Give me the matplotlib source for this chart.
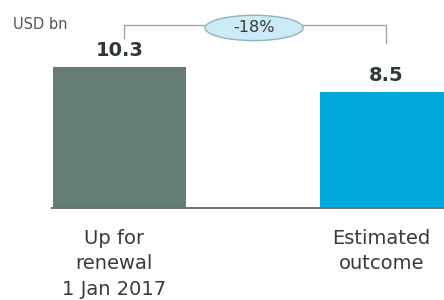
import matplotlib.pyplot as plt
from matplotlib.patches import Ellipse

# data
categories = ["Up for\nrenewal\n1 Jan 2017", "Estimated\noutcome"]
values = [10.3, 8.5]
value_labels = ["10.3", "8.5"]
change_label = "-18%"
unit_label = "USD bn"
bar_colors = ["#647d75", "#00a8de"]

plt.rcParams['font.family'] = ['DejaVu Sans']
text_color = "#3a3a3a"

fig = plt.figure(figsize=(4.44, 3.0), dpi=100)
ax = fig.add_axes([0, 0, 1, 1])

x = list(range(len(categories)))
ax.bar(x, values, width=0.498, color=bar_colors, zorder=2)

# baseline
ax.hlines(0, -0.255, 1.3, color="#6f6f6f", linewidth=1.4, zorder=3)

# value labels above bars
for xi, v, lab in zip(x, values, value_labels):
    ax.annotate(lab, (xi, v), xytext=(0, 5), textcoords="offset points",
                ha="center", va="bottom", fontsize=14, fontweight="bold",
                color="#2e3a37")

# category labels
for xi, cat in zip(x, categories):
    ax.text(xi - 0.02, -1.5, cat, ha="center", va="top", fontsize=14,
            color=text_color, linespacing=1.45)

# bracket showing the change
top = 13.37
ax.plot([x[0] + 0.017, x[0] + 0.017, x[1], x[1]],
        [12.42, top, top, 12.05], color="#a0a8a6", linewidth=1.0, zorder=1)
ell = Ellipse((0.504, 13.15), 0.367, 1.85, facecolor="#cdebf6",
              edgecolor="#8fb3bf", linewidth=1.0, zorder=4)
ax.add_patch(ell)
ax.text(0.504, 13.15, change_label, ha="center", va="center", fontsize=11.5,
        color=text_color, zorder=5)

ax.text(-0.4, 13.4, unit_label, ha="left", va="center", fontsize=10.5,
        color="#555555")

ax.set_xlim(-0.4476, 1.2154)
ax.set_ylim(-6.72, 15.19)
ax.axis("off")

fig.savefig("out.png", dpi=100)
